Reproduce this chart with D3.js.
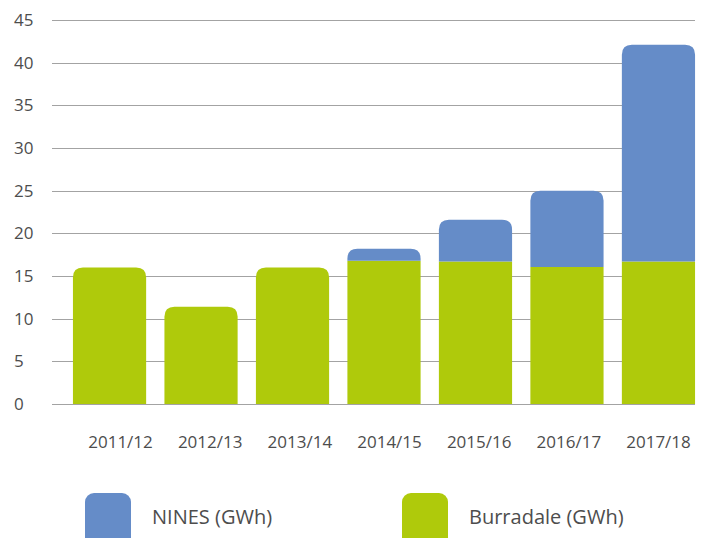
<!DOCTYPE html>
<html lang='en'>
<head>
<meta charset='utf-8'>
<title>NINES and Burradale</title>
<script src='https://cdn.jsdelivr.net/npm/d3@7'></script>
<style>
  body { margin: 0; background: #fff; }
  text { font-family: 'Open Sans', 'Lato', sans-serif; fill: #4d4d4d; }
</style>
</head>
<body>
<script>
// data
var years = ['2011/12', '2012/13', '2013/14', '2014/15', '2015/16', '2016/17', '2017/18'];
var burradale = [16.0, 11.4, 16.0, 16.8, 16.7, 16.05, 16.7];
var nines = [0, 0, 0, 1.4, 4.9, 8.95, 25.4];
var yTicks = [0, 5, 10, 15, 20, 25, 30, 35, 40, 45];
var seriesNames = ['Burradale (GWh)', 'NINES (GWh)'];
var colours = { 'Burradale (GWh)': '#afca0b', 'NINES (GWh)': '#658cc8' };

var width = 705, height = 538;
var gridLeft = 52, gridRight = 695;

var rows = years.map(function (y, i) {
  return { year: y, 'Burradale (GWh)': burradale[i], 'NINES (GWh)': nines[i] };
});
var stacked = d3.stack().keys(seriesNames)(rows);

var svg = d3.select('body').append('svg').attr('width', width).attr('height', height);

var x = d3.scaleBand().domain(years).range([63.8, 704.2]).paddingInner(0.2).paddingOuter(0.1);
// category labels sit slightly off the bar centres in the original
var xLabel = d3.scalePoint().domain(years).range([120.5, 658.5]);
var y = d3.scaleLinear().domain([0, 45]).range([404, 20]);

// gridlines + tick labels
svg.append('g').selectAll('line').data(yTicks).enter().append('line')
  .attr('x1', gridLeft).attr('x2', gridRight)
  .attr('y1', function (d) { return Math.round(y(d)) + 0.5; })
  .attr('y2', function (d) { return Math.round(y(d)) + 0.5; })
  .attr('stroke', '#a3a3a3').attr('stroke-width', 1.2);
svg.append('g').selectAll('text').data(yTicks).enter().append('text')
  .attr('x', 14).attr('y', function (d) { return y(d); })
  .attr('dy', '0.36em').attr('font-size', 17).text(function (d) { return d; });

// rounded-top path for the top segment of each bar
function topRounded(x0, y0, w, h, r) {
  r = Math.min(r, h, w / 2);
  return 'M' + x0 + ',' + (y0 + h) +
    'V' + (y0 + r) +
    'Q' + x0 + ',' + y0 + ' ' + (x0 + r) + ',' + y0 +
    'H' + (x0 + w - r) +
    'Q' + (x0 + w) + ',' + y0 + ' ' + (x0 + w) + ',' + (y0 + r) +
    'V' + (y0 + h) + 'Z';
}

var topKey = rows.map(function (r) { return r['NINES (GWh)'] > 0 ? 'NINES (GWh)' : 'Burradale (GWh)'; });

stacked.forEach(function (s) {
  svg.append('g').selectAll('path').data(s).enter().append('path')
    .filter(function (d) { return d[1] - d[0] > 0; })
    .attr('fill', colours[s.key])
    .attr('d', function (d) {
      var idx = years.indexOf(d.data.year);
      var x0 = x(d.data.year), w = x.bandwidth();
      var y0 = y(d[1]), h = y(d[0]) - y(d[1]);
      if (topKey[idx] === s.key) return topRounded(x0, y0, w, h, 10);
      return 'M' + x0 + ',' + y0 + 'h' + w + 'v' + h + 'h' + (-w) + 'Z';
    });
});

// x labels
svg.append('g').selectAll('text').data(years).enter().append('text')
  .attr('x', function (d) { return xLabel(d); })
  .attr('y', 442).attr('dy', '0.36em')
  .attr('text-anchor', 'middle').attr('font-size', 17).text(function (d) { return d; });

// legend
var legend = [
  { name: 'NINES (GWh)', x: 85 },
  { name: 'Burradale (GWh)', x: 402 }
];
var lg = svg.append('g').selectAll('g').data(legend).enter().append('g');
lg.append('rect')
  .attr('x', function (d) { return d.x; }).attr('y', 493)
  .attr('width', 46).attr('height', 60).attr('rx', 9)
  .attr('fill', function (d) { return colours[d.name]; });
lg.append('text')
  .attr('x', function (d) { return d.x + 67; }).attr('y', 517).attr('dy', '0.36em')
  .attr('font-size', 20).text(function (d) { return d.name; });
</script>
</body>
</html>
